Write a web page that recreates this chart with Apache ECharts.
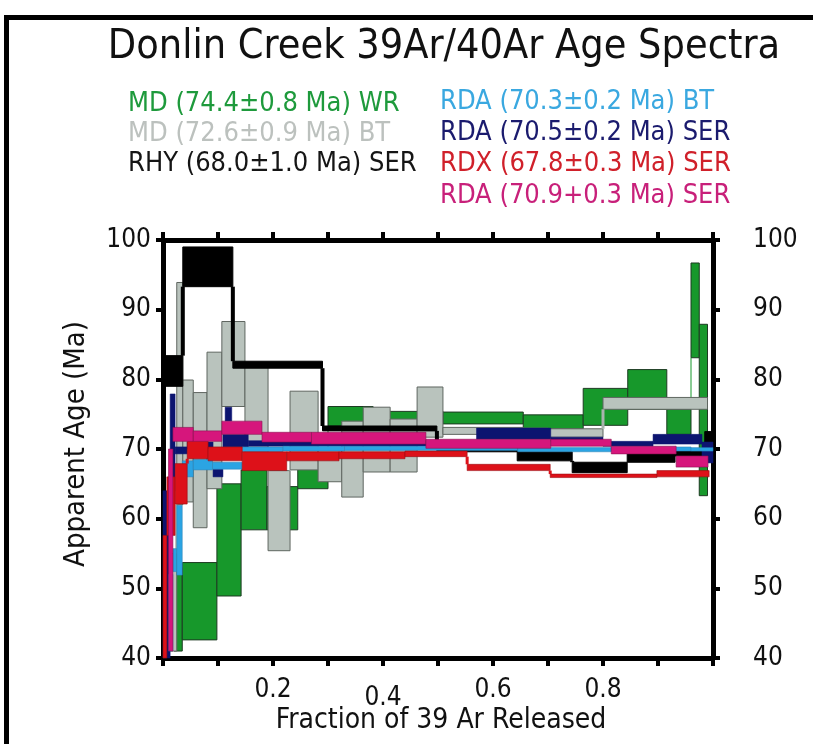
<!DOCTYPE html>
<html><head><meta charset="utf-8">
<script src="https://cdn.jsdelivr.net/npm/echarts@6/dist/echarts.min.js"></script>
<style>html,body{margin:0;padding:0;background:#fff}#c{width:813px;height:744px}</style>
</head><body><div id="c"></div>
<script>
// Each step: [fractionStart, fractionEnd, ageLow, ageHigh]
const mdWR = [
  [0.020,0.035,41.0,53.0],[0.035,0.098,42.6,53.7],[0.098,0.142,48.9,65.0],[0.142,0.189,58.4,67.0],
  [0.189,0.245,58.4,64.6],[0.245,0.300,64.3,68.1],[0.300,0.382,73.3,76.1],[0.382,0.509,74.2,75.4],
  [0.509,0.655,73.6,75.3],[0.655,0.764,72.9,74.9],[0.764,0.845,73.4,78.7],[0.845,0.916,75.7,81.4],
  [0.916,0.960,72.1,75.7],[0.960,0.975,83.1,96.7],[0.975,0.990,63.3,87.9]
];
const mdBT = [
  [0.013,0.025,41.0,55.0],[0.025,0.036,62.0,93.9],[0.036,0.055,62.4,79.9],[0.055,0.080,58.7,78.1],
  [0.080,0.107,64.3,83.9],[0.107,0.149,76.1,88.3],[0.149,0.191,69.5,81.7],[0.191,0.231,55.4,66.9],
  [0.231,0.282,67.0,78.3],[0.282,0.325,65.3,70.0],[0.325,0.364,63.1,74.0],[0.364,0.413,66.7,76.0],
  [0.413,0.462,66.7,74.3],[0.462,0.509,71.7,78.9],[0.509,0.655,72.1,73.1],[0.655,0.700,72.3,73.0],
  [0.700,0.800,71.7,72.9],[0.800,0.990,75.7,77.4]
];
const rhySER = [
  [0.000,0.036,79.0,83.4],[0.036,0.127,93.3,99.0],[0.127,0.290,81.6,82.6],[0.290,0.498,72.6,73.3],
  [0.498,0.644,69.6,70.4],[0.644,0.744,68.3,69.6],[0.744,0.844,66.6,68.1],[0.844,0.931,68.1,69.4],
  [0.931,0.985,69.0,69.8],[0.985,1.000,69.0,72.5]
];
const rdaSERnavy = [
  [0.000,0.013,40.0,64.0],[0.013,0.022,64.0,77.9],[0.022,0.044,69.3,70.3],[0.044,0.091,70.0,71.0],
  [0.091,0.109,66.0,67.1],[0.109,0.155,70.3,72.1],[0.113,0.125,74.0,76.0],[0.155,0.570,70.4,71.2],
  [0.570,0.705,71.4,73.0],[0.705,0.800,71.1,71.7],[0.800,0.891,70.4,71.1],[0.891,0.980,70.7,72.1],
  [0.980,1.000,68.0,71.0]
];
const rdaBT = [
  [0.010,0.018,41.0,52.0],[0.018,0.025,52.4,55.7],[0.025,0.035,51.9,61.9],[0.035,0.055,66.0,68.3],
  [0.055,0.090,67.0,68.5],[0.090,0.144,67.1,68.1],[0.144,0.218,69.6,70.3],[0.218,0.330,69.7,70.4],
  [0.330,0.645,69.8,70.4],[0.645,0.815,69.6,70.2],[0.815,0.960,69.7,70.3],[0.960,1.000,69.7,70.2]
];
const rdxSER = [
  [0.000,0.007,40.0,57.6],[0.007,0.022,57.6,66.0],[0.022,0.044,62.1,67.9],[0.044,0.082,68.6,71.9],
  [0.082,0.144,68.3,70.3],[0.144,0.225,66.9,69.6],[0.225,0.320,68.3,69.6],[0.320,0.440,68.6,69.6],
  [0.440,0.553,68.9,69.7],[0.553,0.704,66.9,67.8],[0.704,0.898,65.9,66.4],[0.898,0.993,66.0,66.9]
];
const rdaSERmag = [
  [0.010,0.018,41.0,70.0],[0.018,0.055,71.1,73.1],[0.055,0.107,71.1,72.6],[0.107,0.180,72.1,74.0],
  [0.180,0.270,71.0,72.4],[0.270,0.478,70.7,72.4],[0.478,0.705,70.1,71.4],[0.705,0.815,70.4,71.4],
  [0.815,0.933,69.3,70.4],[0.933,0.991,67.4,69.0]
];
const legendLabels = [
  'MD (74.4±0.8 Ma) WR','MD (72.6±0.9 Ma) BT','RHY (68.0±1.0 Ma) SER',
  'RDA (70.3±0.2 Ma) BT','RDA (70.5±0.2 Ma) SER','RDX (67.8±0.3 Ma) SER','RDA (70.9+0.3 Ma) SER'
];
const xTickLabels = ['0.2','0.4','0.6','0.8'];
const titleText = 'Donlin Creek 39Ar/40Ar Age Spectra';
const xName = 'Fraction of 39 Ar Released';
const yName = 'Apparent Age (Ma)';

const FONT = '"Liberation Sans Narrow","DejaVu Sans Condensed","Liberation Sans",sans-serif';

function stepSeries(name, data, fill, stroke, strokeW, connW, connColor) {
  return {
    type: 'custom', name: name, data: data, xAxisIndex: 0, yAxisIndex: 0,
    encode: {x: [0, 1], y: [2, 3]},
    renderItem: function (params, api) {
      const x0 = api.value(0), x1 = api.value(1), lo = api.value(2), hi = api.value(3);
      const a = api.coord([x0, hi]), b = api.coord([x1, lo]);
      const children = [{
        type: 'rect',
        shape: {x: a[0], y: a[1], width: b[0] - a[0], height: b[1] - a[1]},
        style: {fill: fill, stroke: stroke, lineWidth: strokeW}
      }];
      if (connW && params.dataIndex > 0) {
        const p = data[params.dataIndex - 1];
        let y0 = null, y1 = null;
        if (lo > p[3]) { y0 = p[3]; y1 = lo; }
        else if (hi < p[2]) { y0 = hi; y1 = p[2]; }
        if (y0 !== null) {
          const c0 = api.coord([x0, y0]), c1 = api.coord([x0, y1]);
          children.push({type: 'line', shape: {x1: c0[0], y1: c0[1], x2: c1[0], y2: c1[1]},
            style: {stroke: connColor, lineWidth: connW}});
        }
      }
      return {type: 'group', children: children};
    }
  };
}

const axisLineStyle = {color: '#000', width: 5};
const tickStyle = {color: '#000', width: 4};
const labelFont = {fontSize: 26, color: '#111', fontFamily: FONT};

const chart = echarts.init(document.getElementById('c'), null, {renderer: 'canvas'});
chart.setOption({
  animation: false,
  backgroundColor: '#fff',
  grid: {left: 163, right: 100, top: 240, bottom: 86, containLabel: false},
  xAxis: [{
    type: 'value', min: 0, max: 1, interval: 0.1, position: 'bottom',
    axisLine: {show: true, onZero: false, lineStyle: axisLineStyle},
    axisTick: {show: true, length: 8, lineStyle: tickStyle},
    splitLine: {show: false},
    axisLabel: Object.assign({
      margin: 19,
      formatter: function (v) {
        const s = (Math.round(v * 10) / 10).toFixed(1);
        if (xTickLabels.indexOf(s) < 0) return '';
        return s === '0.4' ? '{low|' + s + '}' : s;
      },
      rich: {low: Object.assign({padding: [8, 0, 0, 0]}, labelFont)}
    }, labelFont)
  }, {
    type: 'value', min: 0, max: 1, interval: 0.1, position: 'top',
    axisLine: {show: true, onZero: false, lineStyle: axisLineStyle},
    axisTick: {show: true, length: 8, lineStyle: tickStyle},
    splitLine: {show: false}, axisLabel: {show: false}
  }],
  yAxis: [{
    type: 'value', min: 40, max: 100, interval: 10, position: 'left',
    axisLine: {show: true, onZero: false, lineStyle: axisLineStyle},
    axisTick: {show: true, length: 7, lineStyle: tickStyle},
    splitLine: {show: false},
    axisLabel: Object.assign({margin: 12, padding: [4, 0, 0, 0]}, labelFont)
  }, {
    type: 'value', min: 40, max: 100, interval: 10, position: 'right',
    axisLine: {show: true, onZero: false, lineStyle: axisLineStyle},
    axisTick: {show: true, length: 7, lineStyle: tickStyle},
    splitLine: {show: false},
    axisLabel: Object.assign({margin: 40, padding: [4, 0, 0, 0]}, labelFont)
  }],
  series: [
    stepSeries(legendLabels[0], mdWR, '#17982b', '#1d3a22', 1, 1, '#17982b'),
    stepSeries(legendLabels[1], mdBT, '#b9c3bd', '#5f6660', 1, 3, '#a9b3ad'),
    stepSeries(legendLabels[2], rhySER, '#000', '#000', 1, 4, '#000'),
    stepSeries(legendLabels[4], rdaSERnavy, '#0c1470', '#0c1470', 0.5, 0, null),
    stepSeries(legendLabels[3], rdaBT, '#2ba4e3', '#2b7fb3', 0.5, 0, null),
    stepSeries(legendLabels[5], rdxSER, '#dd1119', '#9a0c10', 0.6, 3, '#dd1119'),
    stepSeries(legendLabels[6], rdaSERmag, '#d6167c', '#8a1050', 0.6, 0, null)
  ],
  graphic: [
    {type: 'rect', shape: {x: 4, y: 15, width: 809, height: 5}, style: {fill: '#000'}},
    {type: 'rect', shape: {x: 4, y: 15, width: 5, height: 729}, style: {fill: '#000'}},
    {type: 'text', x: 444, y: 47, style: {text: titleText, fill: '#111', font: '41px ' + FONT, textAlign: 'center', textVerticalAlign: 'middle'}},
    {type: 'text', x: 128, y: 104, style: {text: legendLabels[0], fill: '#1e9a3c', font: '27px ' + FONT, textVerticalAlign: 'middle'}},
    {type: 'text', x: 128, y: 134, style: {text: legendLabels[1], fill: '#bcc1be', font: '27px ' + FONT, textVerticalAlign: 'middle'}},
    {type: 'text', x: 128, y: 164, style: {text: legendLabels[2], fill: '#151515', font: '27px ' + FONT, textVerticalAlign: 'middle'}},
    {type: 'text', x: 440, y: 102, style: {text: legendLabels[3], fill: '#3aa8e0', font: '27px ' + FONT, textVerticalAlign: 'middle'}},
    {type: 'text', x: 440, y: 133, style: {text: legendLabels[4], fill: '#1b1b6e', font: '27px ' + FONT, textVerticalAlign: 'middle'}},
    {type: 'text', x: 440, y: 164, style: {text: legendLabels[5], fill: '#d0202a', font: '27px ' + FONT, textVerticalAlign: 'middle'}},
    {type: 'text', x: 440, y: 196, style: {text: legendLabels[6], fill: '#c8207a', font: '27px ' + FONT, textVerticalAlign: 'middle'}},
    {type: 'text', x: 441, y: 721, style: {text: xName, fill: '#111', font: '28px ' + FONT, textAlign: 'center', textVerticalAlign: 'middle'}},
    {type: 'text', x: 76, y: 444, rotation: Math.PI / 2, style: {text: yName, fill: '#111', font: '29px ' + FONT, textAlign: 'center', textVerticalAlign: 'middle'}}
  ]
});
</script></body></html>
